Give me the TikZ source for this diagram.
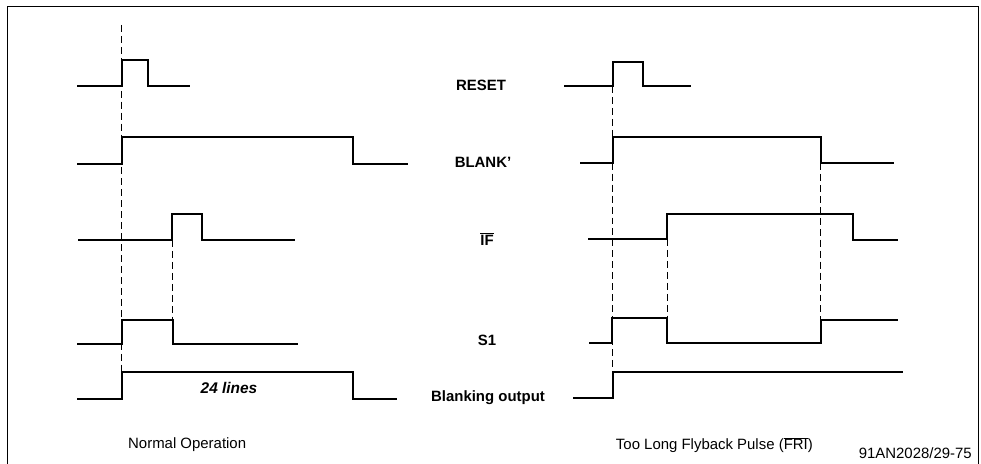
\documentclass[tikz,border=0pt]{standalone}
\usepackage{fontspec}
\setmainfont{Liberation Sans}
\newcommand{\ovl}[1]{$\overline{\hbox{#1}}$}
\tikzset{
  sig/.style={line width=2pt, line join=miter},
  guide/.style={line width=1pt, dash pattern=on 7pt off 4pt},
  siglabel/.style={font=\bfseries\fontsize{15}{17}\selectfont, inner sep=0pt},
  caption/.style={font=\fontsize{15}{17}\selectfont, inner sep=0pt},
  frameline/.style={line width=1pt}
}
\begin{document}
\begin{tikzpicture}[x=1bp,y=-1bp]
\useasboundingbox (0,0) rectangle (981,464);
% frame
\draw[frameline] (7,464) -- (7,7) -- (978,7) -- (978,464);
% ---------- left panel: Normal Operation ----------
\draw[guide] (121,25) -- (121,372);
\draw[guide] (172,240) -- (172,320);
\draw[sig] (77,86) -- (122,86) -- (122,60) -- (148,60) -- (148,86) -- (190,86);
\draw[sig] (77,164) -- (122,164) -- (122,137) -- (353,137) -- (353,164) -- (408,164);
\draw[sig] (78,240) -- (172,240) -- (172,214) -- (202,214) -- (202,240) -- (295,240);
\draw[sig] (77,344) -- (122,344) -- (122,320) -- (173,320) -- (173,344) -- (298,344);
\draw[sig] (77,399) -- (122,399) -- (122,372) -- (353,372) -- (353,399) -- (397,399);
\node[siglabel, font=\bfseries\itshape\fontsize{15.5}{17}\selectfont] (lines) at (229,388) {24 lines};
% ---------- right panel: Too Long Flyback Pulse ----------
\draw[guide] (612,86) -- (612,372);
\draw[guide] (667,239) -- (667,318);
\draw[guide] (820,163) -- (820,320);
\draw[sig] (564,86) -- (613,86) -- (613,62) -- (643,62) -- (643,86) -- (691,86);
\draw[sig] (580,163) -- (613,163) -- (613,137) -- (821,137) -- (821,163) -- (894,163);
\draw[sig] (588,239) -- (667,239) -- (667,214) -- (853,214) -- (853,240) -- (898,240);
\draw[sig] (589,343) -- (612,343) -- (612,318) -- (667,318) -- (667,343) -- (821,343) -- (821,320) -- (898,320);
\draw[sig] (573,398) -- (613,398) -- (613,372) -- (903,372);
% ---------- signal names ----------
\node[siglabel] (reset) at (481,85) {RESET};
\node[siglabel] (blank) at (483,162) {BLANK'};
\node[siglabel] (if) at (487,239) {\ovl{IF}};
\node[siglabel] (s1) at (487,340) {S1};
\node[siglabel] (bo) at (488,398) {Blanking output};
% ---------- captions ----------
\node[caption, anchor=west] (normal) at (128,445) {Normal Operation};
\node[caption, anchor=east] (toolong) at (813,445) {Too Long Flyback Pulse (\ovl{FRI})};
\node[caption, anchor=east] (code) at (972,453) {91AN2028/29-75};
\end{tikzpicture}
\end{document}
